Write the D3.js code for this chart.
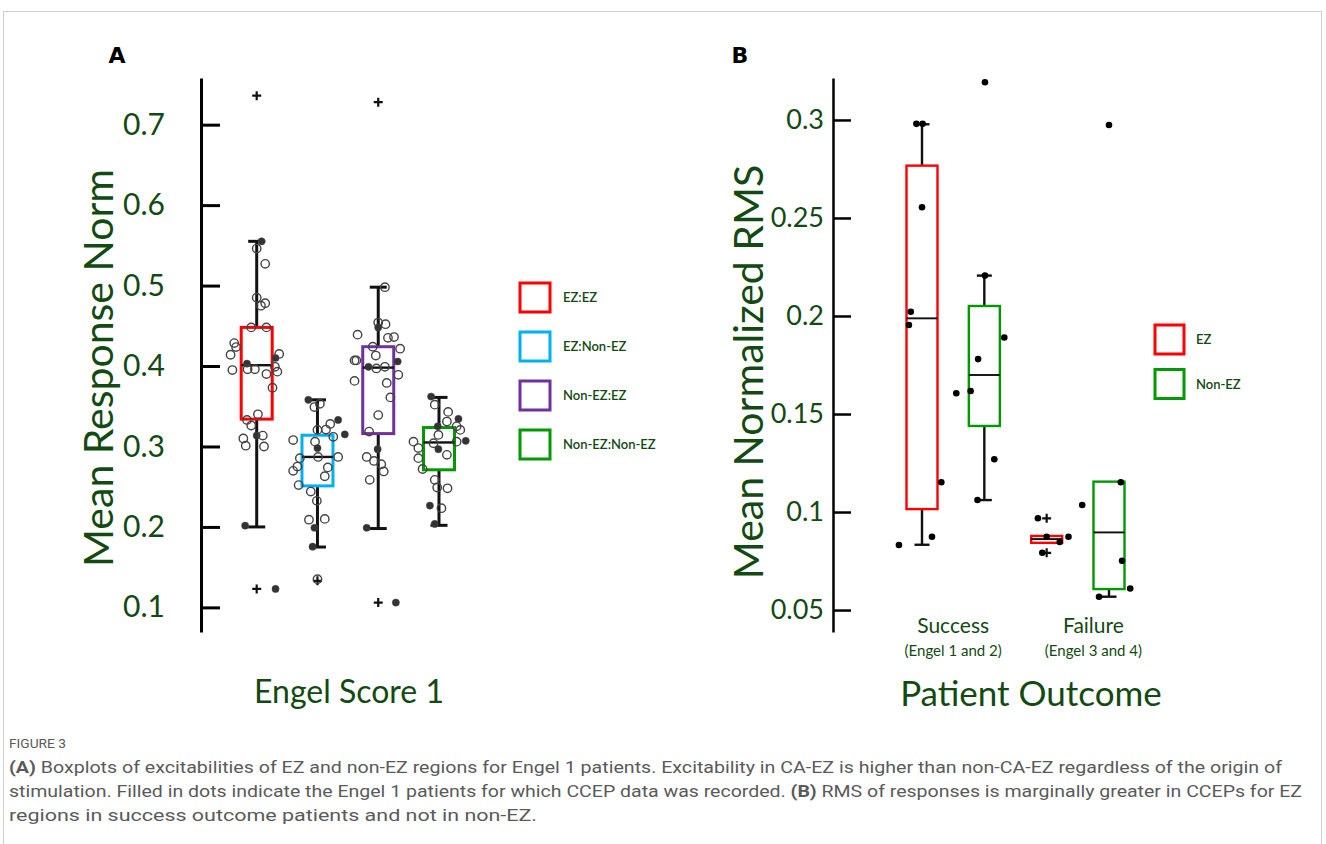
<!DOCTYPE html>
<html>
<head>
<script src="https://cdnjs.cloudflare.com/ajax/libs/d3/7.8.5/d3.min.js"></script>
<style type="text/css">
	body { margin: 0; background: #fff; }
	.chart text { font-family: Lato, "Open Sans", sans-serif; fill: #124a12; }
	.cap text { font-family: Roboto, "Noto Sans", sans-serif; fill: #5a5a5a; }
</style>
</head>
<body>
<script>

// ---- panel A data ----
var groupsA = ["EZ:EZ", "EZ:Non-EZ", "Non-EZ:EZ", "Non-EZ:Non-EZ"];
var colorsA = ["#ff0000", "#00b0f0", "#7030a0", "#009a00"];
// [low whisker, q1, median, q3, high whisker]
var boxA = [
	[0.200, 0.334, 0.401, 0.448, 0.555],
	[0.175, 0.251, 0.287, 0.314, 0.358],
	[0.198, 0.316, 0.398, 0.424, 0.498],
	[0.202, 0.271, 0.305, 0.3235, 0.361]
];
var outliersA = [[0.736, 0.123], [0.133], [0.728, 0.106], []];
// [value, jitter (fraction of step), filled]
var pointsA = [
	[[0.555,0.08,1],[0.546,0,0],[0.527,0.14,0],[0.485,0,0],[0.478,0.14,0],[0.475,0.07,0],[0.448,-0.09,0],[0.448,0.16,0],
	 [0.4285,-0.37,0],[0.4235,-0.34,0],[0.414,-0.43,0],[0.395,-0.40,0],[0.403,-0.16,1],[0.396,-0.15,0],[0.396,-0.03,0],
	 [0.410,0.31,1],[0.415,0.37,0],[0.399,0.30,0],[0.393,0.34,0],[0.390,0.16,0],[0.373,0.26,0],[0.340,0.02,0],[0.333,-0.16,0],
	 [0.326,-0.09,0],[0.3135,0,1],[0.3135,0.10,0],[0.310,-0.22,0],[0.301,-0.18,0],[0.300,0.12,0],[0.2016,-0.19,1],[0.123,0.31,1]],
	[[0.358,-0.15,1],[0.349,-0.05,0],[0.353,0.04,0],[0.333,0.34,1],[0.315,0.45,1],[0.328,0.21,0],[0.321,0.14,0],[0.3206,0,0],
	 [0.308,-0.40,0],[0.306,-0.04,0],[0.312,0.26,0],[0.298,0,1],[0.2855,-0.29,0],[0.287,0.01,0],[0.287,0.34,0],[0.275,-0.33,0],
	 [0.2697,-0.40,0],[0.274,0.17,0],[0.263,0.12,0],[0.252,-0.31,0],[0.244,-0.11,0],[0.2324,-0.01,0],[0.209,-0.14,0],
	 [0.210,0.12,0],[0.199,-0.05,1],[0.1755,-0.08,1],[0.135,0,0]],
	[[0.498,0.11,0],[0.454,0,0],[0.448,0,1],[0.452,0.12,0],[0.439,-0.34,0],[0.435,0.16,0],[0.436,0.26,0],[0.424,-0.09,0],
	 [0.4215,0.36,0],[0.413,-0.04,0],[0.407,-0.39,0],[0.407,-0.36,0],[0.399,-0.16,1],[0.397,-0.03,0],[0.399,0.11,0],
	 [0.4056,0.32,1],[0.389,0.33,0],[0.3815,-0.39,0],[0.379,0.14,0],[0.361,0.20,0],[0.339,0,0],[0.3185,-0.15,0],
	 [0.2966,-0.01,1],[0.287,-0.19,0],[0.282,-0.07,0],[0.278,0.05,0],[0.269,0.09,0],[0.2585,-0.14,0],[0.199,-0.19,1],[0.106,0.29,1]],
	[[0.362,-0.13,1],[0.352,-0.07,0],[0.343,0.15,0],[0.3343,0.32,1],[0.331,0.13,0],[0.325,0.29,0],[0.3206,0.35,0],[0.325,-0.02,1],
	 [0.3144,-0.01,0],[0.307,0.44,1],[0.306,-0.42,0],[0.298,-0.34,0],[0.304,-0.09,0],[0.306,0.29,0],[0.2966,-0.01,1],
	 [0.2896,0.13,0],[0.2855,-0.34,0],[0.272,-0.27,0],[0.2585,-0.07,0],[0.249,-0.03,0],[0.248,0.14,0],[0.2265,-0.15,1],
	 [0.2233,0.04,0],[0.2037,-0.07,1]]
];
var ticksA = [0.1, 0.2, 0.3, 0.4, 0.5, 0.6, 0.7];

// ---- panel B data ----
var outcomesB = ["Success", "Failure"];
var subB = ["(Engel 1 and 2)", "(Engel 3 and 4)"];
var seriesB = ["EZ", "Non-EZ"];
var colorsB = ["#ff0000", "#009a00"];
// boxes in order: Success EZ, Success Non-EZ, Failure EZ, Failure Non-EZ
var boxB = [
	[0.0833, 0.1015, 0.1988, 0.2767, 0.2978],
	[0.1061, 0.1439, 0.1699, 0.2051, 0.2206],
	[0.0843, 0.0843, 0.0862, 0.0878, 0.0878],
	[0.0568, 0.0607, 0.0896, 0.1155, 0.1155]
];
var outliersB = [[], [], [0.0968, 0.0792], []];
var pointsB = [
	[[0.298,-0.09],[0.298,0.01],[0.2555,0],[0.2022,-0.18],[0.1954,-0.21],[0.1152,0.31],[0.0874,0.16],[0.0832,-0.37]],
	[[0.3192,0.01],[0.2206,0.01],[0.189,0.32],[0.178,-0.10],[0.1617,-0.22],[0.1606,-0.45],[0.1269,0.16],[0.1061,-0.11]],
	[[0.0968,-0.14],[0.0792,-0.07],[0.0874,0],[0.0847,0.21],[0.0874,0.35]],
	[[0.2974,0],[0.1152,0.19],[0.1036,-0.43],[0.0751,0.21],[0.0610,0.34],[0.0568,-0.16]]
];
var labelPosB = [0.5, 2.75];
var ticksB = [0.05, 0.1, 0.15, 0.2, 0.25, 0.3];

var canvas = d3.select("body").append("svg")
	.attr("width", 1326)
	.attr("height", 844);

// light frame round the figure
canvas.append("rect")
	.attr("x", 3.5).attr("y", 11.5)
	.attr("width", 1318).attr("height", 860)
	.attr("fill", "none").attr("stroke", "#cfcfcf");

var chart = canvas.append("g").attr("class", "chart");

function drawBoxes(g, x, y, stats, colors, outs, bw, capW, sw) {
	var grp = g.selectAll("g.box").data(stats).enter().append("g").attr("class", "box");
	var cx = function (d, i) { return x(i); };
	grp.append("line").attr("x1", cx).attr("x2", cx)
		.attr("y1", function (d) { return y(d[0]); }).attr("y2", function (d) { return y(d[1]); })
		.attr("stroke", "#111").attr("stroke-width", sw);
	grp.append("line").attr("x1", cx).attr("x2", cx)
		.attr("y1", function (d) { return y(d[3]); }).attr("y2", function (d) { return y(d[4]); })
		.attr("stroke", "#111").attr("stroke-width", sw);
	[0, 4].forEach(function (k) {
		grp.filter(function (d) { return d[k] != d[k == 0 ? 1 : 3]; }).append("line")
			.attr("x1", function (d) { return x(stats.indexOf(d)) - capW / 2; })
			.attr("x2", function (d) { return x(stats.indexOf(d)) + capW / 2; })
			.attr("y1", function (d) { return y(d[k]); }).attr("y2", function (d) { return y(d[k]); })
			.attr("stroke", "#111").attr("stroke-width", sw);
	});
	grp.append("rect")
		.attr("x", function (d, i) { return x(i) - bw / 2; })
		.attr("y", function (d) { return y(d[3]); })
		.attr("width", bw)
		.attr("height", function (d) { return y(d[1]) - y(d[3]); })
		.attr("fill", "none")
		.attr("stroke", function (d, i) { return colors[i]; })
		.attr("stroke-width", sw);
	grp.append("line")
		.attr("x1", function (d, i) { return x(i) - bw / 2; })
		.attr("x2", function (d, i) { return x(i) + bw / 2; })
		.attr("y1", function (d) { return y(d[2]); }).attr("y2", function (d) { return y(d[2]); })
		.attr("stroke", "#111").attr("stroke-width", sw * 0.8);
	// outlier crosses
	outs.forEach(function (list, i) {
		list.forEach(function (v) {
			g.append("path")
				.attr("d", "M" + (x(i) - 4.5) + "," + y(v) + "h9M" + x(i) + "," + (y(v) - 4.5) + "v9")
				.attr("stroke", "#111").attr("stroke-width", 2.2);
		});
	});
}

// ================= panel A =================
var yA = d3.scaleLinear().domain([0.0694, 0.758]).range([632, 78]);
var xA = d3.scalePoint().domain(d3.range(groupsA.length)).range([256.7, 439]);
var stepA = xA.step();

chart.append("text").attr("x", 117).attr("y", 63).attr("text-anchor", "middle")
	.style("font-family", "'DejaVu Sans', sans-serif").style("font-weight", "bold")
	.style("font-size", "22px").style("fill", "#000").text("A");

var axA = chart.append("g").attr("transform", "translate(201,0)")
	.call(d3.axisLeft(yA).tickValues(ticksA).tickSize(-19).tickSizeOuter(0).tickPadding(36)
		.tickFormat(d3.format(".1f")));
axA.select(".domain").attr("stroke", "#000").attr("stroke-width", 3);
axA.selectAll(".tick line").attr("stroke", "#000").attr("stroke-width", 3);
axA.selectAll(".tick text").style("font-size", "30px").style("font-family", "Lato, sans-serif").style("fill", "#124a12");

var gA = chart.append("g");
drawBoxes(gA, xA, yA, boxA, colorsA, outliersA, 31, 17, 3);

pointsA.forEach(function (pts, i) {
	gA.selectAll(null).data(pts).enter().append("circle")
		.attr("cx", function (d) { return xA(i) + d[1] * stepA; })
		.attr("cy", function (d) { return yA(d[0]); })
		.attr("r", function (d) { return d[2] ? 3.6 : 4.2; })
		.attr("fill", function (d) { return d[2] ? "#333" : "none"; })
		.attr("stroke", "#444")
		.attr("stroke-width", function (d) { return d[2] ? 0.5 : 1.4; });
});

chart.append("text")
	.attr("transform", "translate(113,368) rotate(-90)")
	.attr("text-anchor", "middle")
	.style("font-size", "41px")
	.text("Mean Response Norm");

chart.append("text").attr("x", 349).attr("y", 703).attr("text-anchor", "middle")
	.style("font-size", "32px").text("Engel Score 1");

var legA = chart.append("g").selectAll("g").data(groupsA).enter().append("g")
	.attr("transform", function (d, i) { return "translate(520," + (283 + i * 49) + ")"; });
legA.append("rect").attr("width", 30).attr("height", 29).attr("fill", "none")
	.attr("stroke", function (d, i) { return colorsA[i]; }).attr("stroke-width", 3);
legA.append("text").attr("x", 43).attr("y", 19).style("font-size", "13px").style("font-weight", "600")
	.text(function (d) { return d; });

// ================= panel B =================
var yB = d3.scaleLinear().domain([0.0388, 0.3214]).range([632, 78]);
var xB = d3.scalePoint().domain(d3.range(boxB.length)).range([922, 1109]);
var stepB = xB.step();
var boxColB = boxB.map(function (d, i) { return colorsB[i % 2]; });

chart.append("text").attr("x", 740).attr("y", 63).attr("text-anchor", "middle")
	.style("font-family", "'DejaVu Sans', sans-serif").style("font-weight", "bold")
	.style("font-size", "22px").style("fill", "#000").text("B");

var axB = chart.append("g").attr("transform", "translate(833,0)")
	.call(d3.axisLeft(yB).tickValues(ticksB).tickSize(-18).tickSizeOuter(0).tickPadding(9)
		.tickFormat(function (d) { return String(+d.toFixed(2)); }));
axB.select(".domain").attr("stroke", "#000").attr("stroke-width", 2.5);
axB.selectAll(".tick line").attr("stroke", "#000").attr("stroke-width", 2.5);
axB.selectAll(".tick text").style("font-size", "27px").style("font-family", "Lato, sans-serif").style("fill", "#124a12");

var gB = chart.append("g");
drawBoxes(gB, xB, yB, boxB, boxColB, outliersB, 31, 15, 2.4);

pointsB.forEach(function (pts, i) {
	gB.selectAll(null).data(pts).enter().append("circle")
		.attr("cx", function (d) { return xB(i) + d[1] * stepB; })
		.attr("cy", function (d) { return yB(d[0]); })
		.attr("r", 3.3)
		.attr("fill", "#000");
});

var posB = d3.scaleLinear().domain([0, boxB.length - 1]).range(xB.range());
chart.selectAll("text.outc").data(outcomesB).enter().append("text").attr("class", "outc")
	.attr("x", function (d, i) { return posB(labelPosB[i]); }).attr("y", 633)
	.attr("text-anchor", "middle").style("font-size", "21px").text(function (d) { return d; });
chart.selectAll("text.sub").data(subB).enter().append("text").attr("class", "sub")
	.attr("x", function (d, i) { return posB(labelPosB[i]); }).attr("y", 656)
	.attr("text-anchor", "middle").style("font-size", "15px").text(function (d) { return d; });

chart.append("text")
	.attr("transform", "translate(763,372) rotate(-90)")
	.attr("text-anchor", "middle")
	.style("font-size", "41px")
	.text("Mean Normalized RMS");

chart.append("text").attr("x", 1031).attr("y", 706).attr("text-anchor", "middle")
	.style("font-size", "35px").text("Patient Outcome");

var legB = chart.append("g").selectAll("g").data(seriesB).enter().append("g")
	.attr("transform", function (d, i) { return "translate(1155," + (325 + i * 44.5) + ")"; });
legB.append("rect").attr("width", 29).attr("height", 29).attr("fill", "none")
	.attr("stroke", function (d, i) { return colorsB[i]; }).attr("stroke-width", 3);
legB.append("text").attr("x", 41).attr("y", 19).style("font-size", "13px").style("font-weight", "600")
	.text(function (d) { return d; });

// ================= caption =================
var cap = canvas.append("g").attr("class", "cap");
cap.append("text").attr("x", 9).attr("y", 748).style("font-size", "12px")
	.attr("textLength", 57).attr("lengthAdjust", "spacingAndGlyphs").text("FIGURE 3");

var capLines = [
	[["(A)", true], [" Boxplots of excitabilities of EZ and non-EZ regions for Engel 1 patients. Excitability in CA-EZ is higher than non-CA-EZ regardless of the origin of", false]],
	[["stimulation. Filled in dots indicate the Engel 1 patients for which CCEP data was recorded. ", false], ["(B)", true], [" RMS of responses is marginally greater in CCEPs for EZ", false]],
	[["regions in success outcome patients and not in non-EZ.", false]]
];
var capWidths = [1273, 1293, 528];
capLines.forEach(function (parts, i) {
	var t = cap.append("text").attr("x", 9).attr("y", 773 + i * 24).style("font-size", "16px")
		.attr("textLength", capWidths[i]).attr("lengthAdjust", "spacingAndGlyphs");
	parts.forEach(function (p) {
		t.append("tspan").style("font-weight", p[1] ? "bold" : "normal").text(p[0]);
	});
});

</script>
</body>
</html>
